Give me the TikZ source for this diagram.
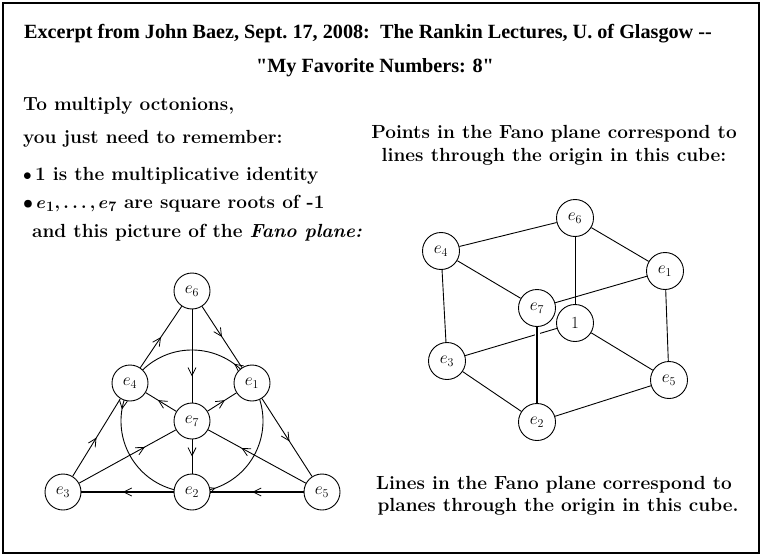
\documentclass[tikz,border=0pt]{standalone}
\usepackage{amsmath}
\usepackage{fontspec}
\newfontfamily\titlefont{Liberation Serif}
\usetikzlibrary{arrows.meta,decorations.markings}
\tikzset{>={Straight Barb[length=8pt,width=8pt]}}
\begin{document}
\begin{tikzpicture}[x=1pt,y=-1pt,
  fnode/.style={circle,draw,fill=white,minimum size=36pt,inner sep=0pt,line width=0.9pt,font=\fontsize{17}{19}\selectfont},
  cnode/.style={fnode,minimum size=37pt},
  edge/.style={line width=0.9pt},
  thickedge/.style={line width=1.9pt},
  marr/.style={postaction={decorate},decoration={markings,mark=at position #1 with {\arrow[line width=0.8pt]{>}}}},
  body/.style={font=\fontsize{19}{22}\selectfont\bfseries, inner sep=0pt},
  ttl/.style={font=\titlefont\bfseries\fontsize{20.2}{23}\selectfont, inner sep=0pt},
]
\useasboundingbox (0,0) rectangle (762,556);
\draw[line width=1.2pt] (3,3) rectangle (759,553);
% title
\node[ttl] (t1) at (368,34) {Excerpt from John Baez, Sept.~17, 2008:\ \ The Rankin Lectures, U. of Glasgow -{}-};
\node[ttl] (t2) at (375,68) {"My Favorite Numbers: 8"};
% left text
\node[body,anchor=base west] (l1) at (23,111) {To multiply octonions,};
\node[body,anchor=base west] (l2) at (23,144) {you just need to remember:};
\node[body,anchor=base west] (l3) at (23,181) {$\bullet$\,1 is the multiplicative identity};
\node[body,anchor=base west] (l4) at (23,208) {$\boldsymbol{\bullet\,e_1,\ldots,e_7}$ are square roots of -1};
\node[body,anchor=base west] (l5) at (32,237) {and this picture of the \textit{Fano plane:}};
% right text
\node[body,anchor=base] (r1) at (554,139) {Points in the Fano plane correspond to};
\node[body,anchor=base] (r2) at (554,162) {lines through the origin in this cube:};
\node[body,anchor=base] (r3) at (554,489) {Lines in the Fano plane correspond to};
\node[body,anchor=base] (r4) at (558,511) {planes through the origin in this cube.};
% Fano plane
\coordinate (fc) at (192,421);
\draw[edge,postaction={decorate},decoration={markings,
  mark=at position 0.215 with {\arrow[line width=0.8pt]{>}},
  mark=at position 0.56 with {\arrow[line width=0.8pt]{>}},
  mark=at position 0.885 with {\arrow[line width=0.8pt]{>}}}]
  (fc) ++(148:71) arc[start angle=148,end angle=-212,radius=71];
\node[fnode] (f6) at (192,291) {$e_6$};
\node[fnode] (f4) at (130,383) {$e_4$};
\node[fnode] (f1) at (252,383) {$e_1$};
\node[fnode] (f7) at (192,421) {$e_7$};
\node[fnode] (f3) at (63,492) {$e_3$};
\node[fnode] (f2) at (192,492) {$e_2$};
\node[fnode] (f5) at (322,492) {$e_5$};
\draw[edge,marr=0.5] (f4) -- (f6);
\draw[edge,marr=0.5] (f6) -- (f1);
\draw[edge,marr=0.72] (f6) -- (f7);
\draw[edge,marr=0.5] (f3) -- (f4);
\draw[edge,marr=0.55] (f1) -- (f5);
\draw[thickedge,marr=0.55] (f5) -- (f2);
\draw[thickedge,marr=0.55] (f2) -- (f3);
\draw[edge,marr=0.5] (f7) -- (f2);
\draw[edge,marr=0.68] (f3) -- (f7);
\draw[edge,marr=0.66] (f5) -- (f7);
\draw[edge,marr=0.6] (f7) -- (f4);
\draw[edge,marr=0.6] (f7) -- (f1);
% cube
\node[cnode] (c6) at (575,218) {$e_6$};
\node[cnode] (c4) at (441,251) {$e_4$};
\node[cnode] (c1) at (665,271) {$e_1$};
\node[cnode] (c0) at (575,323) {1};
\node[cnode] (c7) at (537,308) {$e_7$};
\node[cnode] (c3) at (447,361) {$e_3$};
\node[cnode] (c5) at (669,380) {$e_5$};
\node[cnode] (c2) at (537,422) {$e_2$};
\draw[edge] (c0) -- (c6);
\draw[edge] (c0) -- (c3);
\draw[edge] (c0) -- (c5);
\draw[edge] (c4) -- (c6);
\draw[edge] (c6) -- (c1);
\draw[edge] (c4) -- (c3);
\draw[edge] (c1) -- (c5);
\draw[edge] (c3) -- (c2);
\draw[edge] (c2) -- (c5);
\draw[edge] (c7) -- (c4);
\draw[edge] (c7) -- (c1);
\draw[white,line width=5pt,shorten <=4pt,shorten >=4pt] (c7) -- (c2);
\draw[thickedge] (c7) -- (c2);
\end{tikzpicture}
\end{document}
